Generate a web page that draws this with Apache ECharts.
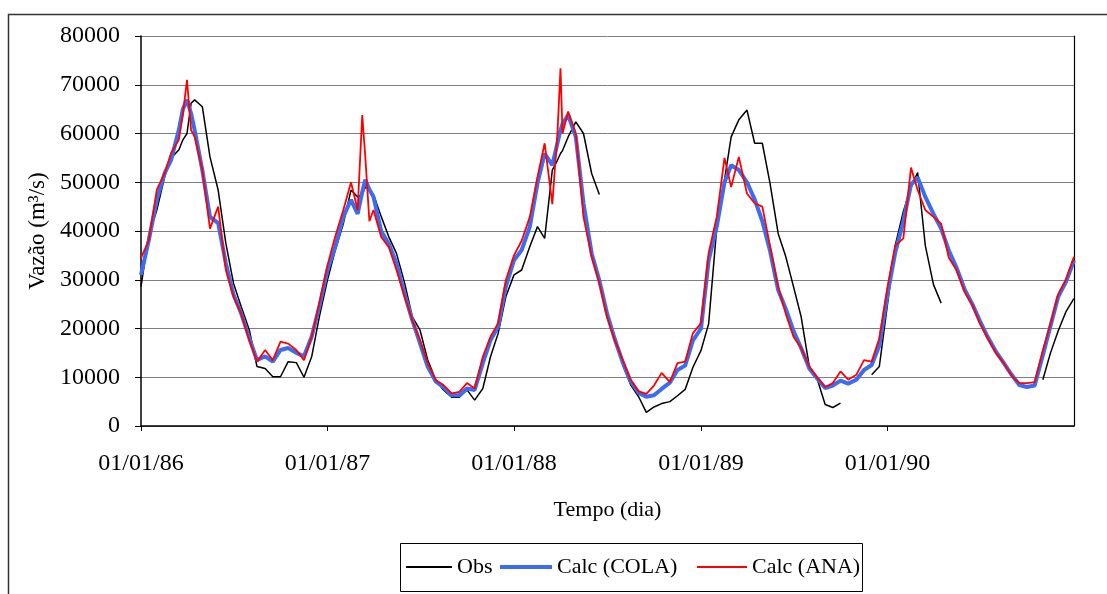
<!DOCTYPE html>
<html>
<head>
<meta charset="utf-8">
<script src="https://cdn.jsdelivr.net/npm/echarts@6/dist/echarts.min.js"></script>
<style>
  html, body { margin: 0; padding: 0; background: #fff; }
  #chart { width: 1107px; height: 594px; }
</style>
</head>
<body>
<div id="chart"></div>
<script>
// dates sampled about twice a month (plus a few extra days around the peaks)
var dates = [
  '1986-01-01','1986-01-16','1986-02-01','1986-02-16','1986-03-01','1986-03-16','1986-03-24','1986-04-01','1986-04-09','1986-04-16','1986-05-01','1986-05-16','1986-06-01','1986-06-16','1986-07-01','1986-07-16','1986-08-01','1986-08-16','1986-09-01','1986-09-16','1986-10-01','1986-10-16','1986-11-01','1986-11-16','1986-12-01','1986-12-16',
  '1987-01-01','1987-01-16','1987-02-01','1987-02-16','1987-03-01','1987-03-10','1987-03-16','1987-03-24','1987-04-01','1987-04-16','1987-05-01','1987-05-16','1987-06-01','1987-06-16','1987-07-01','1987-07-16','1987-08-01','1987-08-16','1987-09-01','1987-09-16','1987-10-01','1987-10-16','1987-11-01','1987-11-16','1987-12-01','1987-12-16',
  '1988-01-01','1988-01-16','1988-02-01','1988-02-16','1988-03-01','1988-03-16','1988-03-26','1988-04-01','1988-04-05','1988-04-16','1988-05-01','1988-05-16','1988-06-01','1988-06-16','1988-07-01','1988-07-16','1988-08-01','1988-08-16','1988-09-01','1988-09-16','1988-10-01','1988-10-16','1988-11-01','1988-11-16','1988-12-01','1988-12-16',
  '1989-01-01','1989-01-16','1989-02-01','1989-02-16','1989-03-01','1989-03-16','1989-04-01','1989-04-16','1989-05-01','1989-05-16','1989-06-01','1989-06-16','1989-07-01','1989-07-16','1989-08-01','1989-08-16','1989-09-01','1989-09-16','1989-10-01','1989-10-16','1989-11-01','1989-11-16','1989-12-01','1989-12-16',
  '1990-01-01','1990-01-16','1990-02-01','1990-02-16','1990-03-01','1990-03-16','1990-04-01','1990-04-16','1990-05-01','1990-05-16','1990-06-01','1990-06-16','1990-07-01','1990-07-16','1990-08-01','1990-08-16','1990-09-01','1990-09-16','1990-10-01','1990-10-16','1990-11-01','1990-11-16','1990-12-01','1990-12-16',
  '1991-01-01'
];

var obs = [
  28600,39000,44300,51000,55000,56600,58700,60000,66200,66900,65500,55200,48400,37500,29300,24500,19700,12200,11800,10100,10100,13200,13000,10000,14200,22400,
  30000,36000,41500,48400,47000,47500,49000,48500,47500,43000,38800,35400,29300,22400,19700,13600,9400,7400,5900,5900,7400,5300,7700,14200,19000,26500,
  31000,32000,36800,40900,38500,52500,54500,55900,56500,59300,62400,60000,51800,47500,null,null,12500,8500,6000,2800,3900,4600,5000,6200,7500,12000,
  15500,21000,40900,50500,59300,62800,64800,58000,58000,49800,39500,34700,28600,22400,12200,9800,4400,3800,4700,null,null,null,10500,12200,
  25000,37000,44000,49000,52000,37000,29000,25200,null,null,null,null,null,null,null,null,null,null,null,null,9500,15000,19500,23400,
  26200
];

var calcCola = [
  31000,38000,46400,51800,54600,60700,65000,66900,64100,60700,52500,42900,41600,33400,27000,23100,18000,13500,14300,13200,15600,16000,15000,14300,18300,24500,
  32000,36700,42900,46400,43500,48000,50500,48500,47000,40000,37400,33400,27000,21700,17000,12200,9100,8000,6300,6300,7700,7400,12900,17600,20400,28600,
  34000,36100,40900,49800,55900,53500,58000,60700,62000,63800,59300,45700,35400,29900,23100,17900,13000,9200,6800,6000,6300,7600,8900,11500,12400,17500,
  20000,34000,41000,50000,53500,52500,50000,46500,42000,36000,27900,24000,19500,16000,11800,9800,7800,8300,9300,8700,9500,11500,12500,16500,
  27000,35500,42000,49500,51000,47000,43500,40500,36000,32500,28000,25000,21500,18300,15300,13000,10500,8400,8000,8300,14500,20500,26500,29500,
  34000
];

var calcAna = [
  34500,38000,48500,51800,56000,58700,64000,71000,60700,59300,52500,40500,45000,32000,26500,23100,17600,13200,15600,13500,17300,16900,15600,13500,18300,25200,
  33000,38800,44300,50000,44300,63800,55200,42000,44300,38800,36700,32000,26500,21700,17600,12900,9400,8400,6700,7000,8800,7700,14200,18300,21100,29900,
  35000,38000,42900,51100,58000,45500,60000,73400,60000,64500,60000,42900,34700,29300,22400,17600,13500,9500,7100,6600,8300,10900,9000,12900,13200,19000,
  21100,35500,43000,55000,49000,55200,47700,45700,45000,37000,28500,23000,18300,16000,12200,10000,8000,8800,11200,9500,10500,13500,13200,18000,
  28500,37000,38500,53000,48400,44300,42900,41500,34500,32000,27500,24800,21000,18000,15000,13000,10300,8800,8800,9000,15500,21000,27000,30000,
  34700
];

var seriesNames = ['Obs', 'Calc (COLA)', 'Calc (ANA)'];
var yTicks = { min: 0, max: 80000, step: 10000 };

function pairs(vals) {
  return dates.map(function (d, i) { return [d, vals[i]]; });
}
function pad(n) { return n < 10 ? '0' + n : '' + n; }

var chart = echarts.init(document.getElementById('chart'));
var font = 'Liberation Serif';
var legendText = { fontFamily: font, fontSize: 22, color: '#000' };

var option = {
  animation: false,
  backgroundColor: '#fff',
  textStyle: { fontFamily: font, color: '#000' },
  grid: { left: 141, top: 36, right: 33, bottom: 168, containLabel: false },
  xAxis: {
    type: 'time',
    min: +new Date(1986, 0, 1),
    max: +new Date(1991, 0, 1),
    splitNumber: 5,
    name: 'Tempo (dia)',
    nameLocation: 'middle',
    nameGap: 73,
    nameTextStyle: { fontFamily: font, fontSize: 22, color: '#000' },
    axisLine: { lineStyle: { color: '#000', width: 1.5 } },
    axisTick: { show: true, length: 5, lineStyle: { color: '#000' } },
    axisLabel: {
      fontFamily: font, fontSize: 24, color: '#000', margin: 26,
      showMaxLabel: false,
      formatter: function (v) {
        var d = new Date(v);
        return pad(d.getDate()) + '/' + pad(d.getMonth() + 1) + '/' + String(d.getFullYear()).slice(2);
      }
    },
    splitLine: { show: false }
  },
  yAxis: [
    {
      type: 'value',
      min: yTicks.min,
      max: yTicks.max,
      interval: yTicks.step,
      name: 'Vazão (m³/s)',
      nameLocation: 'middle',
      nameGap: 86,
      nameTextStyle: { fontFamily: font, fontSize: 23, color: '#000' },
      axisLine: { show: true, lineStyle: { color: '#000', width: 1.5 } },
      axisTick: { show: true, length: 6, lineStyle: { color: '#000' } },
      axisLabel: {
        fontFamily: font, fontSize: 24, color: '#000', margin: 21,
        formatter: function (v) { return String(v); }
      },
      splitLine: { show: true, lineStyle: { color: '#7f7f7f', width: 1 } }
    },
    {
      type: 'value',
      position: 'right',
      min: yTicks.min,
      max: yTicks.max,
      axisLine: { show: true, lineStyle: { color: '#000', width: 1.2 } },
      axisTick: { show: false },
      axisLabel: { show: false },
      splitLine: { show: false }
    }
  ],
  legend: [
    {
      data: [seriesNames[0]], left: 406, top: 556, padding: 0, icon: 'rect',
      itemWidth: 46, itemHeight: 2, itemGap: 5, textStyle: legendText
    },
    {
      data: [seriesNames[1]], left: 500, top: 556, padding: 0, icon: 'rect',
      itemWidth: 52, itemHeight: 4, itemGap: 5, textStyle: legendText
    },
    {
      data: [seriesNames[2]], left: 697, top: 556, padding: 0, icon: 'rect',
      itemWidth: 50, itemHeight: 2, itemGap: 5, textStyle: legendText
    }
  ],
  graphic: [
    {
      type: 'rect', silent: true, z: -1,
      shape: { x: 8.5, y: 14.5, width: 1120, height: 600 },
      style: { fill: null, stroke: '#333', lineWidth: 1.5 }
    },
    {
      type: 'rect', silent: true,
      shape: { x: 400.5, y: 543.5, width: 462, height: 48 },
      style: { fill: null, stroke: '#000', lineWidth: 1 }
    }
  ],
  series: [
    {
      name: seriesNames[0], type: 'line', data: pairs(obs),
      showSymbol: false, symbol: 'none', connectNulls: false,
      lineStyle: { color: '#000', width: 1.5 }, itemStyle: { color: '#000' }
    },
    {
      name: seriesNames[1], type: 'line', data: pairs(calcCola),
      showSymbol: false, symbol: 'none',
      lineStyle: { color: '#3a6cf4', width: 4 }, itemStyle: { color: '#3a6cf4' }
    },
    {
      name: seriesNames[2], type: 'line', data: pairs(calcAna),
      showSymbol: false, symbol: 'none',
      lineStyle: { color: '#ff0000', width: 1.8 }, itemStyle: { color: '#ff0000' }
    }
  ]
};

chart.setOption(option);
</script>
</body>
</html>
